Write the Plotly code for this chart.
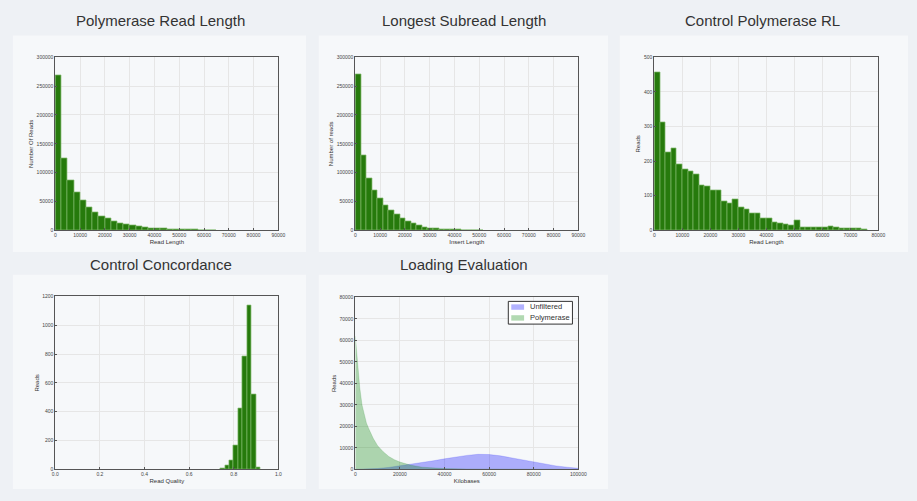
import plotly.graph_objects as go

W, H = 917, 501

# ---------------- data ----------------
pol_bin_width = 2500
pol_counts = [268000, 124600, 87400, 65700, 51400, 40000, 31400, 25000, 20000, 15400,
              12600, 10300, 8000, 6300, 5000, 4000, 3200, 2500, 2000, 1600,
              1300, 1000, 800, 650, 500, 400]

sub_bin_width = 2250
sub_counts = [270300, 129700, 90900, 68600, 55400, 42900, 34300, 27400, 20600, 14900,
              11400, 8000, 5700, 4000, 2900, 1700, 1300, 1000, 800, 600,
              450, 350, 250]

ctl_bin_width = 2000
ctl_counts = [457, 312, 224, 236, 192, 176, 171, 162, 129, 127,
              114, 116, 84, 79, 88, 65, 61, 50, 50, 33,
              35, 24, 21, 17, 14, 29, 8, 8, 7, 9,
              7, 12, 7, 5, 6, 5, 6, 2]

conc_bin_starts = [0.74, 0.76, 0.78, 0.80, 0.82, 0.84, 0.86, 0.88, 0.90]
conc_bin_width = 0.02
conc_counts = [9, 27, 61, 168, 426, 786, 1139, 517, 11]

unf_x = [0, 5000, 10000, 15000, 20000, 25000, 30000, 35000, 40000, 45000, 50000,
         55000, 60000, 65000, 70000, 75000, 80000, 85000, 90000, 95000, 100000]
unf_y = [0, 100, 400, 900, 1600, 2300, 3100, 4000, 4900, 5800, 6500,
         7000, 6900, 6300, 5400, 4300, 3300, 2400, 1600, 1000, 500]

poly_x = [0, 500, 1000, 2000, 3000, 4000, 5000, 6000, 8000, 10000, 12500, 15000,
          17500, 20000, 25000, 30000, 35000, 40000, 50000, 60000, 80000, 100000]
poly_y = [62000, 55000, 48000, 38000, 30000, 25000, 21500, 19000, 14500, 11000, 8200, 6000,
          4500, 3400, 1900, 1000, 600, 350, 150, 60, 20, 0]

titles = ["Polymerase Read Length", "Longest Subread Length", "Control Polymerase RL",
          "Control Concordance", "Loading Evaluation"]
x_titles = ["Read Length", "Insert Length", "Read Length", "Read Quality", "Kilobases"]
y_titles = ["Number Of Reads", "Number of reads", "Reads", "Reads", "Reads"]
legend_names = ["Unfiltered", "Polymerase"]

# ---------------- layout geometry (pixels) ----------------
plot_boxes = [  # x0, x1, y0(top), y1(bottom)
    (53, 279, 55, 230),
    (357, 583, 55, 230),
    (660, 887, 55, 230),
    (53, 279, 297, 472),
    (357, 583, 298, 472),
]
cards = [
    (10, 307, 33, 252),
    (320, 613, 33, 252),
    (625, 917, 33, 252),
    (10, 307, 275, 492),
    (320, 613, 275, 492),
]
title_pos = [(160, 18), (467, 18), (770, 18), (160, 265), (467, 265)]

x_ranges = [[0, 90000], [0, 90000], [0, 80000], [0, 1.0], [0, 100000]]
x_dticks = [10000, 10000, 10000, 0.2, 20000]
y_ranges = [[0, 300000], [0, 300000], [0, 500], [0, 1200], [0, 80000]]
y_dticks = [50000, 50000, 100, 200, 10000]

UNF_COLOR = "rgba(0,0,255,0.3)"
POL_COLOR = "rgba(0,128,0,0.3)"


def px_x(p):
    return p / W


def px_y(p):
    return 1 - p / H


fig = go.Figure()

BAR_COLOR = "#267a0c"
BAR_LINE = "#7fb86a"


def add_hist(counts, starts, width, idx):
    fig.add_trace(go.Bar(
        x=starts, y=counts, width=[width] * len(counts), offset=0,
        marker=dict(color=BAR_COLOR, line=dict(color=BAR_LINE, width=0.7)),
        showlegend=False, xaxis=f"x{idx}" if idx > 1 else "x",
        yaxis=f"y{idx}" if idx > 1 else "y",
    ))


add_hist(pol_counts, [i * pol_bin_width for i in range(len(pol_counts))], pol_bin_width, 1)
add_hist(sub_counts, [i * sub_bin_width for i in range(len(sub_counts))], sub_bin_width, 2)
add_hist(ctl_counts, [i * ctl_bin_width for i in range(len(ctl_counts))], ctl_bin_width, 3)
add_hist(conc_counts, conc_bin_starts, conc_bin_width, 4)

fig.add_trace(go.Scatter(
    x=unf_x, y=unf_y, fill="tozeroy", mode="lines", name=legend_names[0],
    line=dict(color=UNF_COLOR, width=0.5), fillcolor=UNF_COLOR,
    xaxis="x5", yaxis="y5", showlegend=False,
))
fig.add_trace(go.Scatter(
    x=poly_x, y=poly_y, fill="tozeroy", mode="lines", name=legend_names[1],
    line=dict(color=POL_COLOR, width=0.5), fillcolor=POL_COLOR,
    xaxis="x5", yaxis="y5", showlegend=False,
))

layout = dict(
    width=W, height=H,
    margin=dict(l=0, r=0, t=0, b=0),
    paper_bgcolor="#eef1f5",
    plot_bgcolor="#ffffff",
    bargap=0,
    font=dict(family="Liberation Sans, Arial, sans-serif", color="#333"),
    showlegend=False,
)

shapes = []
for (x0, x1, y0, y1) in cards:
    shapes.append(dict(type="rect", xref="paper", yref="paper",
                       x0=px_x(x0), x1=px_x(x1), y0=px_y(y1), y1=px_y(y0),
                       fillcolor="#f6f8fa", line=dict(width=0), layer="below"))

# manual legend for the Loading Evaluation panel
shapes.append(dict(type="rect", xref="paper", yref="paper",
                   x0=px_x(512), x1=px_x(577), y0=px_y(325), y1=px_y(302),
                   fillcolor="#ffffff", line=dict(color="#333", width=1), layer="above"))
shapes.append(dict(type="rect", xref="paper", yref="paper",
                   x0=px_x(515), x1=px_x(528), y0=px_y(310.5), y1=px_y(305),
                   fillcolor=UNF_COLOR, line=dict(width=0), layer="above"))
shapes.append(dict(type="rect", xref="paper", yref="paper",
                   x0=px_x(515), x1=px_x(528), y0=px_y(321.5), y1=px_y(316),
                   fillcolor=POL_COLOR, line=dict(width=0), layer="above"))
layout["shapes"] = shapes

annotations = []
for i, t in enumerate(titles):
    cx, cy = title_pos[i]
    annotations.append(dict(text=t, x=px_x(cx), y=px_y(cy), xref="paper", yref="paper",
                            showarrow=False, xanchor="center", yanchor="middle",
                            font=dict(size=15, color="#333",
                                      family="Liberation Sans, Arial, sans-serif")))
for name, ly in zip(legend_names, [307.5, 318.5]):
    annotations.append(dict(text=name, x=px_x(532), y=px_y(ly), xref="paper", yref="paper",
                            showarrow=False, xanchor="left", yanchor="middle",
                            font=dict(size=7.5, color="#333")))
layout["annotations"] = annotations

for i in range(5):
    x0, x1, y0, y1 = plot_boxes[i]
    n = "" if i == 0 else str(i + 1)
    tf = ".1f" if i == 3 else "d"
    layout["xaxis" + n] = dict(
        domain=[px_x(x0), px_x(x1)], anchor="y" + n,
        range=x_ranges[i], dtick=x_dticks[i], tick0=0, tickformat=tf,
        showline=True, mirror=True, linecolor="#555", linewidth=1,
        showgrid=True, gridcolor="#e6e6e6", gridwidth=1, zeroline=False,
        ticks="inside", ticklen=2, tickcolor="#555",
        tickfont=dict(size=5, color="#444"),
        title=dict(text=x_titles[i], font=dict(size=6, color="#333"), standoff=2),
        fixedrange=True,
    )
    layout["yaxis" + n] = dict(
        domain=[px_y(y1), px_y(y0)], anchor="x" + n,
        range=y_ranges[i], dtick=y_dticks[i], tick0=0, tickformat="d",
        showline=True, mirror=True, linecolor="#555", linewidth=1,
        showgrid=True, gridcolor="#e6e6e6", gridwidth=1, zeroline=False,
        ticks="inside", ticklen=2, tickcolor="#555",
        tickfont=dict(size=5, color="#444"),
        title=dict(text=y_titles[i], font=dict(size=6, color="#333"), standoff=2),
        fixedrange=True,
    )

fig.update_layout(**layout)
fig.write_html("out.html", config={"displayModeBar": False},
               post_script="document.body.style.margin='0px';document.body.style.padding='0px';")
